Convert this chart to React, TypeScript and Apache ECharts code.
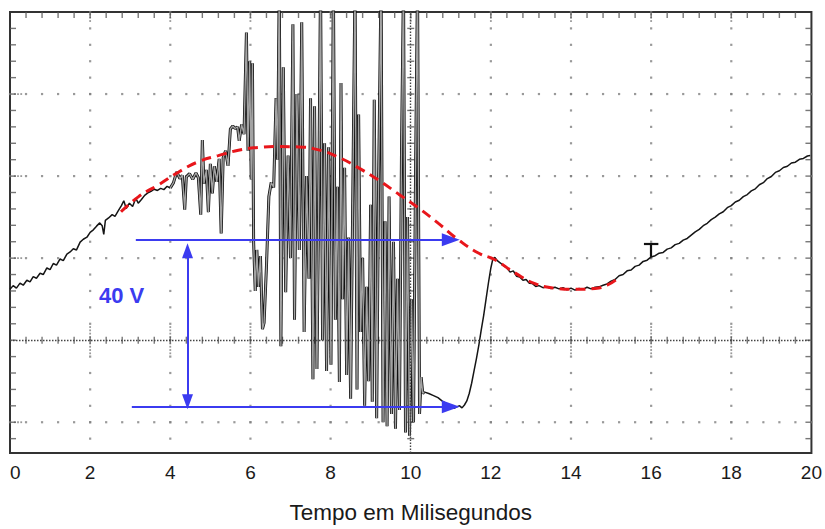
import React, { useEffect, useRef } from 'react';
import * as echarts from 'echarts';

// ---- Axis description (time in ms, voltage in V, 20 V per division) ----
const X_MIN = 0;
const X_MAX = 20;
const X_MAJOR = 2;
const X_MINOR = 0.4;
const Y_MIN = -27.5;
const Y_MAX = 80;
const Y_MINOR = 4;
const axisTitle = 'Tempo em Milisegundos';
const spanLabel = '40 V';

const traceStart: [number, number][] = [
  [0, 12.4], [0.08, 13.3], [0.16, 12.7], [0.25, 13.9], [0.33, 13.4], [0.42, 14.6], [0.5, 14.2],
  [0.58, 15.5], [0.66, 15.1], [0.75, 16.3], [0.83, 16.0], [0.92, 17.6], [1.0, 17.2], [1.08, 18.7],
  [1.16, 18.3], [1.25, 19.8], [1.33, 19.4], [1.42, 21.0], [1.5, 21.5], [1.58, 22.3], [1.66, 22.0],
  [1.75, 23.9], [1.83, 24.6], [1.92, 25.1], [2.0, 26.3], [2.08, 26.9], [2.16, 27.8], [2.24, 28.6],
  [2.3, 27.9], [2.34, 25.8], [2.38, 29.2], [2.46, 29.8], [2.55, 30.6], [2.62, 30.2], [2.7, 31.5],
  [2.78, 32.8], [2.84, 34.0], [2.9, 32.1], [2.98, 33.4], [3.06, 32.6], [3.14, 34.6], [3.2, 33.4],
  [3.28, 34.3], [3.36, 35.3], [3.44, 35.9], [3.52, 36.3], [3.6, 36.8], [3.68, 36.5], [3.76, 37.0],
  [3.84, 36.7], [3.92, 37.5], [4.0, 37.1],
];

const traceBurst: [number, number][] = [
  [4.0, 37.1], [4.08, 38.4], [4.16, 41.0], [4.24, 39.4], [4.3, 40.2], [4.36, 31.8], [4.4, 39.8],
  [4.48, 40.6], [4.56, 39.2], [4.64, 40.8], [4.7, 39.6], [4.76, 30.6], [4.8, 48.8], [4.84, 38.2],
  [4.9, 41.5], [4.95, 31.2], [5.0, 43.0], [5.05, 35.8], [5.1, 42.4], [5.16, 38.6], [5.22, 44.2],
  [5.27, 26.0], [5.32, 44.5], [5.38, 46.2], [5.44, 42.5], [5.5, 51.5], [5.56, 52.2], [5.62, 51.6],
  [5.68, 52.0], [5.72, 48.6], [5.78, 52.6], [5.84, 50.2], [5.9, 75.0], [5.94, 46.2], [5.98, 68.0],
  [6.02, 39.2], [6.05, 67.5], [6.08, 23.8], [6.12, 12.0], [6.16, 22.0], [6.2, 13.0], [6.25, 20.5],
  [6.3, 2.7], [6.34, 4.2], [6.4, 18.0], [6.46, 35.0], [6.52, 38.5], [6.58, 37.2], [6.64, 59.0],
  [6.68, 44.0], [6.72, 88], [6.76, -1.5], [6.82, 66.5], [6.88, 11.7], [6.94, 45.0], [7.0, 20.0],
  [7.06, 77.0], [7.1, 5.0], [7.16, 60.0], [7.22, 22.0], [7.28, 77.5], [7.34, 2.0], [7.4, 40.0],
  [7.46, 15.0], [7.5, 59.0], [7.56, -9.5], [7.6, 57.0], [7.66, -7.0], [7.7, 30.0], [7.75, 88],
  [7.8, 0], [7.85, 48.0], [7.9, -7.5], [7.95, 47.0], [8.01, -6.0], [8.07, 88], [8.12, 5.0],
  [8.17, 37.4], [8.22, -10.2], [8.26, 62.7], [8.3, 10.0], [8.35, 42.0], [8.4, -8.5], [8.45, 25.0],
  [8.5, -14.3], [8.55, 31.0], [8.61, 88], [8.66, -12.0], [8.7, 55.0], [8.75, 2.0], [8.8, 20.0],
  [8.85, -16.0], [8.9, 13.0], [8.95, -10.0], [9.0, 33.0], [9.04, -15.0], [9.09, 58.6], [9.15, -19.0],
  [9.2, 40.0], [9.26, 88], [9.31, -20.0], [9.36, 29.0], [9.41, -21.0], [9.46, 35.0], [9.52, -18.0],
  [9.57, 24.0], [9.62, -21.6], [9.67, 15.0], [9.72, -17.0], [9.77, 46.0], [9.82, 88], [9.87, -22.5],
  [9.92, 30.0], [9.97, -23.3], [10.02, 10.0], [10.07, -20.0], [10.12, 40.0], [10.17, 88],
  [10.22, -18.0], [10.26, -9.0], [10.3, -13.0], [10.33, -12.6],
];

const traceTail: [number, number][] = [
  [10.33, -12.6], [10.45, -13.0], [10.57, -13.5], [10.68, -14.0], [10.78, -14.8], [10.88, -15.4],
  [10.98, -16.0], [11.08, -16.6], [11.16, -16.2], [11.22, -16.0], [11.28, -16.5], [11.34, -15.8],
  [11.4, -14.8], [11.46, -13.0], [11.52, -10.5], [11.58, -7.5], [11.64, -4.5], [11.7, -1.2],
  [11.76, 2.5], [11.82, 6.0], [11.88, 10.0], [11.94, 14.0], [12.0, 17.6], [12.05, 19.8],
  [12.1, 20.2], [12.16, 19.4], [12.24, 18.8], [12.32, 18.1], [12.4, 17.6], [12.48, 16.6],
  [12.56, 16.9], [12.64, 15.6], [12.72, 15.4], [12.8, 14.6], [12.88, 14.8], [12.96, 13.9],
  [13.04, 13.8], [13.12, 13.1], [13.2, 13.3], [13.3, 12.8], [13.4, 13.0], [13.5, 12.6], [13.6, 12.9],
  [13.7, 12.5], [13.8, 12.8], [13.9, 12.3], [14.0, 12.7], [14.1, 12.2], [14.2, 12.6], [14.3, 12.4],
  [14.4, 12.9], [14.5, 12.5], [14.6, 12.9], [14.7, 13.0], [14.8, 13.4], [14.9, 13.7], [15.0, 14.4],
  [15.1, 14.8], [15.2, 15.7], [15.3, 16.0], [15.4, 16.9], [15.5, 17.1], [15.6, 18.0], [15.7, 18.3],
  [15.8, 19.2], [15.9, 19.5], [16.0, 20.3], [16.1, 20.6], [16.2, 21.2], [16.3, 21.4], [16.4, 22.2],
  [16.5, 22.5], [16.6, 23.3], [16.7, 23.6], [16.8, 24.4], [16.9, 24.8], [17.0, 25.6], [17.1, 26.4],
  [17.2, 27.0], [17.3, 27.9], [17.4, 28.5], [17.5, 29.4], [17.6, 30.0], [17.7, 30.8], [17.8, 31.3],
  [17.9, 32.3], [18.0, 32.8], [18.1, 33.7], [18.2, 34.1], [18.3, 35.0], [18.4, 35.5], [18.5, 36.4],
  [18.6, 36.9], [18.7, 37.9], [18.8, 38.4], [18.9, 39.4], [19.0, 39.9], [19.1, 40.9], [19.2, 41.3],
  [19.3, 42.1], [19.4, 42.4], [19.5, 43.2], [19.6, 43.4], [19.7, 44.1], [19.8, 44.3], [19.9, 44.9],
  [19.97, 45.0],
];

// ---- Fitted (red dashed) curve ----
const fitCurve: [number, number][] = [
  [2.77, 31.3], [3.21, 35.0], [3.71, 37.9], [4.21, 41.0], [4.7, 43.5], [5.2, 45.0], [5.7, 46.3],
  [6.2, 47.0], [6.7, 47.2], [7.2, 47.1], [7.7, 46.4], [8.2, 44.6], [8.7, 42.0], [9.2, 39.0],
  [9.7, 35.6], [10.2, 32.2], [10.7, 28.4], [11.2, 24.4], [11.7, 21.2], [12.1, 19.6], [12.6, 16.4],
  [13.1, 13.8], [13.6, 12.7], [14.1, 12.4], [14.6, 12.6], [14.9, 13.4], [15.15, 14.9],
];

// ---- Annotations ----
const upperArrow: [number, number][] = [[3.14, 24.5], [11.0, 24.5]];
const lowerArrow: [number, number][] = [[3.04, -16.2], [11.0, -16.2]];
const spanArrow: [number, number][] = [[4.43, 21.8], [4.43, -15.0]];
const cursorBar: [number, number][] = [[15.82, 23.6], [16.18, 23.6]];
const cursorStem: [number, number][] = [[16.0, 23.6], [16.0, 20.3]];

// ---- Graticule helpers (oscilloscope screen) ----
function range(a: number, b: number, step: number): number[] {
  const out: number[] = [];
  const n = Math.round((b - a) / step);
  for (let i = 0; i <= n; i++) out.push(+(a + i * step).toFixed(4));
  return out;
}
const xMinor = range(X_MIN, X_MAX, X_MINOR);
const yMinor = range(-24, Y_MAX, Y_MINOR);
const xMajorInner = range(X_MIN + X_MAJOR, X_MAX - X_MAJOR, X_MAJOR).filter((v) => v !== 10);
const yMajorInner = [60, 40, 20, -20];

const FONT = '"Liberation Sans", Arial, sans-serif';
const BLUE = '#3b3bf0';

function buildOption(): echarts.EChartsOption {
  const gridDots: number[][] = [];
  xMajorInner.forEach((x) => yMinor.forEach((y) => gridDots.push([x, y])));
  yMajorInner.forEach((y) => xMinor.forEach((x) => gridDots.push([x, y])));
  const denseCentre: number[][] = [];
  xMajorInner.forEach((x) => range(-3.2, 3.2, 0.8).forEach((y) => denseCentre.push([x, y])));
  const denseTop: number[][] = [];
  xMajorInner.concat([10]).forEach((x) => [79.4, 78.6, 77.8].forEach((y) => denseTop.push([x, y])));
  const denseLeft: number[][] = [];
  yMajorInner.forEach((y) => [0.12, 0.2, 0.28].forEach((x) => denseLeft.push([x, y])));

  const hTicks = xMinor.filter((x) => x > 0 && x < 20).map((x) => [x, 0]);
  const vTicks = range(-24, 76, Y_MINOR).map((y) => [10, y]);
  const topTicks = xMinor.filter((x) => x > 0 && x < 20).map((x) => [x, Y_MAX]);
  const leftTicks = range(-24, 76, Y_MINOR).map((y) => [X_MIN, y]);
  const rightTicks = range(-24, 76, Y_MINOR).map((y) => [X_MAX, y]);

  const dotSeries = (data: number[][], size: any, offset: number[] = [0, 0], color = '#808080') => ({
    type: 'scatter' as const,
    data,
    symbol: 'rect',
    symbolSize: size,
    symbolOffset: offset,
    itemStyle: { color },
    silent: true,
    z: 1,
    clip: false,
  });

  return {
    animation: false,
    backgroundColor: '#ffffff',
    grid: {
      left: 10,
      right: 8,
      top: 12,
      bottom: 75,
      show: true,
      borderColor: '#333',
      borderWidth: 2,
      backgroundColor: '#fff',
    },
    xAxis: {
      type: 'value',
      min: X_MIN,
      max: X_MAX,
      interval: X_MAJOR,
      name: axisTitle,
      nameLocation: 'middle',
      nameGap: 48,
      nameTextStyle: { fontFamily: FONT, fontSize: 22.5, color: '#1a1a1a' },
      axisLine: { show: false },
      axisTick: { show: false },
      splitLine: { show: false },
      axisLabel: { fontFamily: FONT, fontSize: 19, color: '#1a1a1a', margin: 10, alignMinLabel: 'left' },
    },
    yAxis: {
      type: 'value',
      min: Y_MIN,
      max: Y_MAX,
      axisLine: { show: false },
      axisTick: { show: false },
      axisLabel: { show: false },
      splitLine: { show: false },
    },
    graphic: [
      {
        type: 'text',
        left: 99,
        top: 284,
        z: 20,
        style: { text: spanLabel, font: `bold 22px ${FONT}`, fill: BLUE },
      },
    ],
    series: [
      dotSeries(gridDots, 2.2),
      dotSeries(denseCentre, 1.8),
      dotSeries(denseTop, 1.8),
      dotSeries(denseLeft, 1.8),
      dotSeries(hTicks, [1.4, 7], [0, 0], '#555'),
      dotSeries(vTicks, [7, 1.4], [0, 0], '#555'),
      dotSeries(topTicks, [1.4, 6], [0, 3], '#555'),
      dotSeries(leftTicks, [6, 1.4], [3, 0], '#555'),
      dotSeries(rightTicks, [6, 1.4], [-3, 0], '#555'),
      {
        type: 'line',
        data: [],
        silent: true,
        markLine: {
          silent: true,
          symbol: 'none',
          animation: false,
          label: { show: false },
          emphasis: { disabled: true },
          lineStyle: { color: '#444', width: 1.4, type: [1.5, 1.5] },
          data: [{ yAxis: 0 }, { xAxis: 10 }],
        },
      },
      {
        type: 'line',
        data: traceStart,
        symbol: 'none',
        lineStyle: { color: '#151515', width: 1.5 },
        z: 3,
      },
      {
        type: 'line',
        data: traceBurst,
        symbol: 'none',
        lineStyle: { color: '#111', width: 3.0 },
        z: 3,
      },
      {
        type: 'line',
        data: traceBurst,
        symbol: 'none',
        lineStyle: { color: '#a3a3a3', width: 1.4 },
        z: 4,
      },
      {
        type: 'line',
        data: traceTail,
        symbol: 'none',
        lineStyle: { color: '#151515', width: 1.5 },
        z: 3,
        markLine: {
          silent: true,
          symbol: 'none',
          animation: false,
          label: { show: false },
          emphasis: { disabled: true },
          lineStyle: { color: '#111', width: 2.2, type: 'solid' },
          data: [
            [{ coord: cursorBar[0] }, { coord: cursorBar[1] }],
            [{ coord: cursorStem[0] }, { coord: cursorStem[1] }],
          ],
        },
      },
      {
        type: 'line',
        data: fitCurve,
        smooth: 0.5,
        symbol: 'none',
        lineStyle: { color: '#e8161b', width: 3, type: [10, 6] },
        z: 5,
      },
      {
        type: 'line',
        data: [],
        silent: true,
        z: 6,
        markLine: {
          silent: true,
          animation: false,
          symbol: ['none', 'triangle'],
          symbolSize: [13, 18],
          label: { show: false },
          emphasis: { disabled: true },
          lineStyle: { color: BLUE, width: 2, type: 'solid' },
          data: [
            [{ coord: upperArrow[0] }, { coord: upperArrow[1] }],
            [{ coord: lowerArrow[0] }, { coord: lowerArrow[1] }],
            [
              { coord: spanArrow[0], symbol: 'triangle', symbolSize: [11, 15] },
              { coord: spanArrow[1], symbol: 'triangle', symbolSize: [11, 15] },
            ],
          ],
        },
      },
    ] as any,
  };
}

export default function App() {
  const ref = useRef<HTMLDivElement>(null);
  useEffect(() => {
    document.body.style.margin = '0';
    const chart = echarts.init(ref.current!, null, { renderer: 'svg' });
    chart.setOption(buildOption());
    return () => chart.dispose();
  }, []);
  return <div ref={ref} style={{ width: 825, height: 529 }} />;
}
